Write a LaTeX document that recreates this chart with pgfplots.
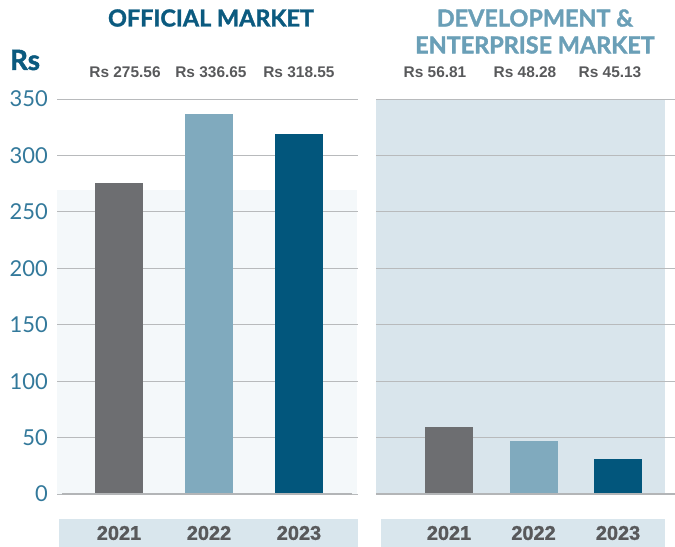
\documentclass[border=0pt]{standalone}
\usepackage{pgfplots}
\pgfplotsset{compat=1.18}
\usepackage{fontspec}
\setmainfont{Lato}
\newfontfamily\arialfont{Liberation Sans}
\newfontfamily\heavyarial[FakeBold=1.2]{Liberation Sans}
\newfontfamily\titlefont[FakeBold=1.6]{Lato}
\definecolor{barA}{HTML}{6D6E71}
\definecolor{barB}{HTML}{80AABE}
\definecolor{barC}{HTML}{02567C}
\definecolor{titleA}{HTML}{0B5A7F}
\definecolor{titleB}{HTML}{6A9FB7}
\definecolor{tickc}{HTML}{33799B}
\definecolor{gridc}{HTML}{B8BABC}
\definecolor{leftbg}{HTML}{F4F8FA}
\definecolor{rightbg}{HTML}{D9E5EC}
\definecolor{stripc}{HTML}{D9E6ED}
\definecolor{valc}{HTML}{58595B}
\definecolor{basec}{HTML}{B3B5B7}
\pgfplotsset{
  common/.style={
    scale only axis, height=395bp,
    ymin=0, ymax=350,
    ybar, bar width=48bp, bar shift=0pt,
    ytick={0,50,...,350},
    ymajorgrids, grid style={draw=gridc, line width=0.9bp},
    axis line style={draw=none},
    major tick length=0pt,
    xtick={0,1,2}, xticklabels={2021,2022,2023},
    xticklabel style={font=\heavyarial\bfseries\fontsize{20}{20}\selectfont, text=valc, anchor=center, yshift=-39bp},
    clip=false,
  },
}
\begin{document}
\begin{tikzpicture}
\useasboundingbox (0bp,0bp) rectangle (675bp,-547bp);
% decorative backgrounds
\fill[leftbg] (57bp,-190bp) rectangle (357bp,-494bp);
\fill[rightbg] (376bp,-100bp) rectangle (665bp,-495bp);
\fill[stripc] (59bp,-519bp) rectangle (358bp,-547bp);
\fill[stripc] (381bp,-519bp) rectangle (665bp,-547bp);
% titles
\node[font=\titlefont\bfseries\fontsize{23.5}{23.5}\selectfont, text=titleA] at (211bp,-18bp) {OFFICIAL MARKET};
\node[font=\titlefont\bfseries\fontsize{23.5}{27}\selectfont, text=titleB, align=center] at (535bp,-31.5bp) {DEVELOPMENT \&\\ENTERPRISE MARKET};
\node[font=\titlefont\bfseries\fontsize{28}{28}\selectfont, text=titleA] at (25bp,-60bp) {Rs};

\begin{axis}[common,
  at={(57bp,-494bp)}, anchor=south west,
  width=301bp, xmin=-0.689, xmax=2.656,
  /pgf/number format/assume math mode=true,
  yticklabel style={font=\fontsize{22}{22}\selectfont, text=tickc, anchor=east, inner sep=0pt, xshift=-9bp},
]
\addplot[fill=barA, draw=none] coordinates {(0,275.56)};
\addplot[fill=barB, draw=none] coordinates {(1,336.65)};
\addplot[fill=barC, draw=none] coordinates {(2,318.55)};
\draw[basec, line width=2bp] (axis cs:-0.633,0) -- (axis cs:2.589,0);
\node[font=\arialfont\bfseries\fontsize{15.5}{15.5}\selectfont, text=valc] at (axis cs:0.067,374) {Rs 275.56};
\node[font=\arialfont\bfseries\fontsize{15.5}{15.5}\selectfont, text=valc] at (axis cs:1.022,374) {Rs 336.65};
\node[font=\arialfont\bfseries\fontsize{15.5}{15.5}\selectfont, text=valc] at (axis cs:2.0,374) {Rs 318.55};
\end{axis}

\begin{axis}[common,
  at={(376bp,-494bp)}, anchor=south west,
  width=299bp, xmin=-0.864, xmax=2.674,
  yticklabel style={text opacity=0},
]
\addplot[fill=barA, draw=none] coordinates {(0,59)};
\addplot[fill=barB, draw=none] coordinates {(1,47)};
\addplot[fill=barC, draw=none] coordinates {(2,31)};
\draw[basec, line width=2bp] (axis cs:-0.864,0) -- (axis cs:2.674,0);
\node[font=\arialfont\bfseries\fontsize{15.5}{15.5}\selectfont, text=valc] at (axis cs:-0.166,374) {Rs 56.81};
\node[font=\arialfont\bfseries\fontsize{15.5}{15.5}\selectfont, text=valc] at (axis cs:0.899,374) {Rs 48.28};
\node[font=\arialfont\bfseries\fontsize{15.5}{15.5}\selectfont, text=valc] at (axis cs:1.905,374) {Rs 45.13};
\end{axis}
\end{tikzpicture}
\end{document}
